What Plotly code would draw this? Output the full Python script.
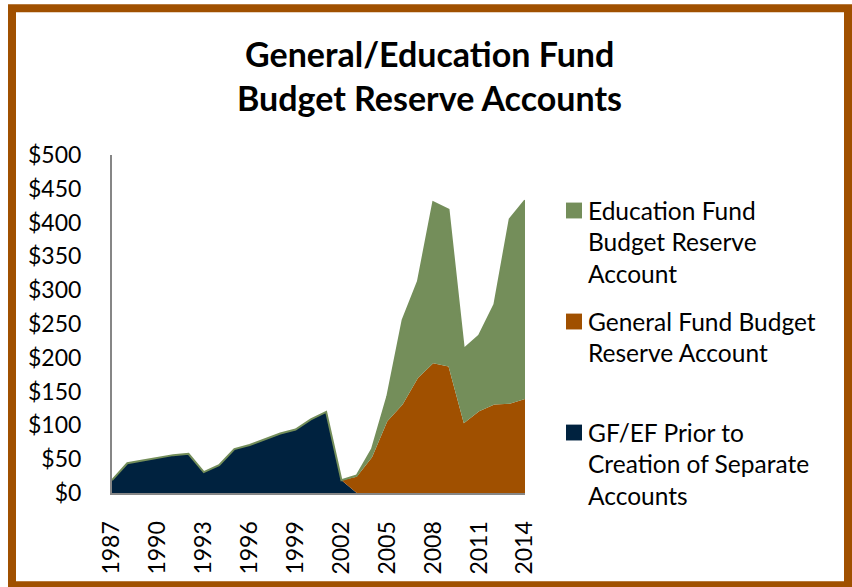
import plotly.graph_objects as go

# Fiscal years shown on the category axis
years = list(range(1987, 2015))

# Combined GF/EF reserve before the separate accounts existed ($ millions)
gfef_prior = [19, 44, 48, 52, 56, 58, 31, 41, 65, 71, 79, 88, 94, 109, 120, 19,
              0, 0, 0, 0, 0, 0, 0, 0, 0, 0, 0, 0]
# General Fund Budget Reserve Account ($ millions)
gf_reserve = [0] * 16 + [24, 53, 106, 131, 170, 192, 187, 103, 121, 131, 132, 139]
# Education Fund Budget Reserve Account ($ millions)
ef_reserve = [0] * 16 + [2, 12, 37, 125, 143, 238, 232, 110, 112, 148, 273, 294]

y_ticks = list(range(0, 501, 50))
y_tick_text = [f"${v}" for v in y_ticks]
x_ticks = list(range(1987, 2015, 3))

NAVY = "#00223F"
ORANGE = "#A05000"
GREEN = "#748E5A"
FRAME = "#A05000"
AXIS_GREY = "#868686"
FONT = "Lato, 'Open Sans', sans-serif"

legend_entries = [
    ("Education Fund Budget Reserve Account", GREEN,
     ["Education Fund", "Budget Reserve", "Account"], 211),
    ("General Fund Budget Reserve Account", ORANGE,
     ["General Fund Budget", "Reserve Account"], 323),
    ("GF/EF Prior to Creation of Separate Accounts", NAVY,
     ["GF/EF Prior to", "Creation of Separate", "Accounts"], 435),
]

W, H = 852, 587
L, R, T, B = 112, 525, 155, 496  # plot-area pixel edges


def px_x(x):
    return (x - L) / (R - L)


def px_y(y):
    return (B - y) / (B - T)


fig = go.Figure()
fig.add_trace(go.Scatter(x=years, y=gfef_prior, stackgroup="s", mode="lines",
                         line=dict(width=0, color=NAVY), fillcolor=NAVY,
                         name="GF/EF Prior to Creation of Separate Accounts"))
fig.add_trace(go.Scatter(x=years, y=gf_reserve, stackgroup="s", mode="lines",
                         line=dict(width=0, color=ORANGE), fillcolor=ORANGE,
                         name="General Fund Budget Reserve Account"))
fig.add_trace(go.Scatter(x=years, y=ef_reserve, stackgroup="s", mode="lines",
                         line=dict(width=2, color=GREEN), fillcolor=GREEN,
                         name="Education Fund Budget Reserve Account"))

annotations = []
shapes = []

# Two-line chart title
for text, yc in [("General/Education Fund", 53), ("Budget Reserve Accounts", 97)]:
    annotations.append(dict(text=f"<b>{text}</b>", x=px_x(429), y=px_y(yc),
                            xref="paper", yref="paper", xanchor="center",
                            yanchor="middle", showarrow=False,
                            font=dict(family=FONT, size=34, color="black")))

# Legend: swatch plus wrapped label lines
for _, color, lines, y0 in legend_entries:
    shapes.append(dict(type="rect", xref="paper", yref="paper",
                       x0=px_x(566), x1=px_x(582), y0=px_y(y0 + 8), y1=px_y(y0 - 8),
                       fillcolor=color, line=dict(width=0)))
    for i, line in enumerate(lines):
        annotations.append(dict(text=line, x=px_x(586), y=px_y(y0 + i * 31.7),
                                xref="paper", yref="paper", xanchor="left",
                                yanchor="middle", showarrow=False,
                                font=dict(family=FONT, size=24.5, color="black")))

# Outer frame
shapes.append(dict(type="rect", xref="paper", yref="paper",
                   x0=px_x(12), x1=px_x(848), y0=px_y(589), y1=px_y(7),
                   line=dict(color=FRAME, width=8), fillcolor="rgba(0,0,0,0)",
                   layer="above"))

fig.update_layout(
    width=W, height=H,
    margin=dict(l=L, r=W - R, t=T, b=H - B, pad=0),
    paper_bgcolor="white", plot_bgcolor="white",
    showlegend=False,
    font=dict(family=FONT, size=23, color="black"),
    annotations=annotations, shapes=shapes,
    xaxis=dict(range=[1987, 2014], tickmode="array", tickvals=x_ticks,
               tickangle=-90, showgrid=False, zeroline=False,
               showline=True, linecolor=AXIS_GREY, linewidth=2,
               ticks="outside", ticklen=17, tickcolor="rgba(0,0,0,0)",
               tickfont=dict(family=FONT, size=23)),
    yaxis=dict(range=[0, 500], tickmode="array", tickvals=y_ticks,
               ticktext=y_tick_text, showgrid=False, zeroline=False,
               showline=True, linecolor=AXIS_GREY, linewidth=2,
               ticks="outside", ticklen=24, tickcolor="rgba(0,0,0,0)",
               tickfont=dict(family=FONT, size=23)),
)

fig.write_html("out.html")
